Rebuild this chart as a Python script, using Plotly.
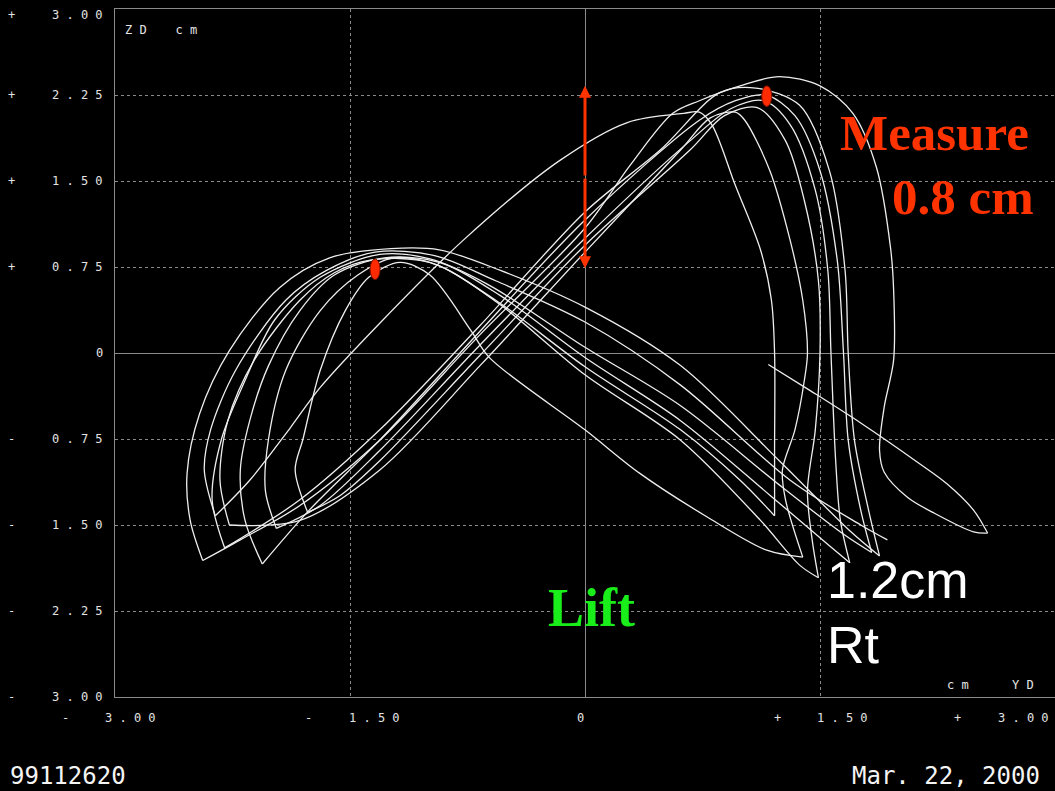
import plotly.graph_objects as go

# ---------------- data (cm) ----------------
# start of the trace: tail on the right
tail_x = [1.17, 1.44, 1.76, 2.12, 2.31, 2.48, 2.57]
tail_y = [-0.10, -0.33, -0.61, -0.95, -1.14, -1.37, -1.57]

# right-hand loops: bottom-right tip -> up -> right peak -> down-left diagonal
arc_a_x = [2.57, 2.48, 2.22, 2.06, 1.91, 1.88, 1.91, 1.97, 1.97, 1.95, 1.86, 1.71, 1.50, 1.24, 0.99, 0.73, 0.56, 0.29, 0.00, -0.67, -1.31, -1.82, -2.20, -2.44]
arc_a_y = [-1.57, -1.56, -1.39, -1.26, -1.04, -0.85, -0.47, -0.06, 0.55, 0.92, 1.62, 2.09, 2.33, 2.41, 2.33, 2.20, 2.09, 1.64, 1.09, 0.16, -0.76, -1.33, -1.63, -1.81]
arc_b_x = [1.88, 1.81, 1.72, 1.68, 1.66, 1.56, 1.37, 1.09, 0.86, 0.48, 0.00, -0.67, -1.31, -1.82, -2.30]
arc_b_y = [-1.77, -1.37, -0.76, 0.00, 0.72, 1.59, 2.16, 2.31, 2.27, 1.77, 1.23, 0.24, -0.67, -1.28, -1.70]
arc_c_x = [1.83, 1.76, 1.68, 1.65, 1.61, 1.50, 1.34, 1.155, 0.96, 0.73, 0.00, -0.67, -1.31, -1.76, -2.06]
arc_c_y = [-1.74, -1.37, -0.76, 0.00, 0.81, 1.59, 2.07, 2.25, 2.20, 2.03, 1.16, 0.19, -0.76, -1.37, -1.84]
arc_d_x = [1.69, 1.63, 1.60, 1.57, 1.55, 1.47, 1.31, 1.14, 0.93, 0.67, 0.00, -0.67, -1.31, -1.69, -1.97]
arc_d_y = [-1.83, -1.46, -0.94, 0.00, 0.72, 1.42, 1.99, 2.20, 2.13, 1.85, 1.00, 0.07, -0.85, -1.33, -1.53]
arc_e_x = [1.49, 1.45, 1.42, 1.47, 1.50, 1.49, 1.40, 1.28, 1.10, 0.89, 0.67, 0.00, -0.67, -1.31, -1.56, -1.77]
arc_e_y = [-1.96, -1.63, -1.20, -0.67, 0.00, 0.63, 1.33, 1.85, 2.14, 2.07, 1.77, 0.94, -0.02, -0.94, -1.24, -1.39]
arc_f_x = [1.39, 1.28, 1.26, 1.34, 1.40, 1.42, 1.39, 1.31, 1.18, 1.02, 0.96, 0.80, 0.61, 0.00, -0.67, -1.31, -1.82, -2.27]
arc_f_y = [-1.78, -1.28, -1.02, -0.67, -0.24, 0.00, 0.46, 0.98, 1.59, 2.03, 2.10, 2.05, 1.77, 0.88, -0.11, -1.02, -1.46, -1.50]
arc_g_x = [1.21, 1.21, 1.21, 1.19, 1.12, 0.96, 0.81, 0.73, 0.63, 0.27, -0.16, -0.78, -1.31, -1.69, -1.88, -2.14, -2.36]
arc_g_y = [-1.42, -0.85, 0.00, 0.46, 0.90, 1.46, 1.99, 2.10, 2.09, 2.01, 1.68, 0.98, 0.26, -0.30, -0.65, -1.11, -1.42]

# left-hand loops: bottom-left tip -> up -> left peak -> down-right diagonal
sweep_1_x = [-2.44, -2.52, -2.54, -2.46, -2.27, -1.95, -1.63, -1.24, -0.93, -0.54, 0.00, 0.61, 1.24, 1.69, 1.88]
sweep_1_y = [-1.81, -1.46, -1.05, -0.53, 0.02, 0.57, 0.83, 0.91, 0.90, 0.72, 0.40, -0.11, -0.94, -1.55, -1.77]
sweep_2_x = [-2.30, -2.38, -2.32, -2.17, -1.98, -1.69, -1.31, -0.99, -0.61, 0.00, 0.61, 1.24, 1.66, 1.83]
sweep_2_y = [-1.70, -1.28, -0.75, -0.24, 0.29, 0.66, 0.86, 0.82, 0.59, 0.05, -0.46, -1.15, -1.59, -1.74]
sweep_3_x = [-2.06, -2.17, -2.20, -2.14, -2.02, -1.82, -1.60, -1.28, -0.93, -0.54, 0.00, 0.61, 1.18, 1.56, 1.69]
sweep_3_y = [-1.84, -1.46, -1.02, -0.59, -0.11, 0.37, 0.68, 0.83, 0.79, 0.50, -0.04, -0.59, -1.24, -1.68, -1.83]
sweep_4_x = [-1.97, -2.04, -2.02, -1.91, -1.69, -1.45, -1.22, -0.93, -0.54, 0.00, 0.61, 1.12, 1.37, 1.49]
sweep_4_y = [-1.53, -1.20, -0.75, -0.15, 0.37, 0.68, 0.83, 0.76, 0.42, -0.19, -0.76, -1.46, -1.85, -1.96]
sweep_5_x = [-1.77, -1.85, -1.80, -1.69, -1.53, -1.38, -1.18, -0.99, -0.73, -0.61, 0.00, 0.35, 0.78, 1.16, 1.39]
sweep_5_y = [-1.39, -1.02, -0.75, -0.15, 0.37, 0.66, 0.79, 0.68, 0.20, -0.04, -0.67, -1.05, -1.43, -1.72, -1.78]
sweep_6_x = [-2.27, -2.33, -2.28, -2.11, -1.82, -1.60, -1.37, -0.99, -0.57, 0.00, 0.61, 0.99, 1.21]
sweep_6_y = [-1.50, -1.11, -0.59, -0.06, 0.46, 0.70, 0.81, 0.79, 0.46, -0.12, -0.67, -1.11, -1.42]
sweep_7_x = [-2.36, -2.43, -2.39, -2.23, -1.91, -1.65, -1.34, -0.96, -0.57, 0.00, 0.61, 1.31, 1.76, 1.93]
sweep_7_y = [-1.42, -1.02, -0.67, -0.15, 0.46, 0.72, 0.88, 0.85, 0.63, 0.27, -0.28, -1.11, -1.50, -1.63]

# marked peaks (cm)
peak_x = [-1.34, 1.16]
peak_y = [0.73, 2.24]
# lift measurement (cm)
lift_x = 0.0
lift_top = 2.33
lift_bottom = 0.74

# tick labels
y_tick_vals = [3, 2.25, 1.5, 0.75, 0, -0.75, -1.5, -2.25, -3]
y_tick_text = ["3 . 0 0", "2 . 2 5", "1 . 5 0", "0 . 7 5", "0", "0 . 7 5", "1 . 5 0", "2 . 2 5", "3 . 0 0"]
y_tick_sign = ["+", "+", "+", "+", "", "-", "-", "-", "-"]
x_tick_vals = [-3, -1.5, 0, 1.5, 3]
x_tick_text = ["3 . 0 0", "1 . 5 0", "0", "1 . 5 0", "3 . 0 0"]
x_tick_sign = ["-", "-", "", "+", "+"]

strokes = [
    (tail_x, tail_y), (arc_a_x, arc_a_y),
    (sweep_1_x, sweep_1_y), (arc_b_x, arc_b_y),
    (sweep_2_x, sweep_2_y), (arc_c_x, arc_c_y),
    (sweep_3_x, sweep_3_y), (arc_d_x, arc_d_y),
    (sweep_4_x, sweep_4_y), (arc_e_x, arc_e_y),
    (sweep_5_x, sweep_5_y), (arc_f_x, arc_f_y),
    (sweep_6_x, sweep_6_y), (arc_g_x, arc_g_y),
    (sweep_7_x, sweep_7_y),
]

fig = go.Figure()
for sx, sy in strokes:
    fig.add_trace(go.Scatter(
        x=sx, y=sy, mode="lines",
        line=dict(color="#eeeeee", width=1.3, shape="spline", smoothing=0.9),
        hoverinfo="skip", showlegend=False))

MONO = "DejaVu Sans Mono"
LBL = "#e4e4e4"
LSZ = 12
ann = []

# y tick labels
for v, t, s in zip(y_tick_vals, y_tick_text, y_tick_sign):
    ys = -6 if v == 3 else 0
    ann.append(dict(x=-0.0106, xref="paper", y=v, yref="y", text=t, showarrow=False,
                    xanchor="right", yanchor="middle", yshift=ys,
                    font=dict(family=MONO, size=LSZ, color=LBL)))
    if s:
        ann.append(dict(x=-0.1106, xref="paper", y=v, yref="y", text=s, showarrow=False,
                        xanchor="center", yanchor="middle", yshift=ys,
                        font=dict(family=MONO, size=LSZ, color=LBL)))

# x tick labels
num_shift = [15, 24, -5, 22, -32]
sign_shift = [-50, -42, 0, -43, -98]
for v, t, s, ns, ss in zip(x_tick_vals, x_tick_text, x_tick_sign, num_shift, sign_shift):
    ann.append(dict(x=v, xref="x", y=-0.0305, yref="paper", text=t, showarrow=False,
                    xanchor="center", yanchor="middle", xshift=ns,
                    font=dict(family=MONO, size=LSZ, color=LBL)))
    if s:
        ann.append(dict(x=v, xref="x", y=-0.0305, yref="paper", text=s, showarrow=False,
                        xanchor="center", yanchor="middle", xshift=ss,
                        font=dict(family=MONO, size=LSZ, color=LBL)))

NB = "\u00a0"
ann.append(dict(x=0.0085, xref="paper", y=0.9695, yref="paper",
                text="Z" + NB + "D" + NB * 4 + "c" + NB + "m", showarrow=False,
                xanchor="left", yanchor="middle", font=dict(family=MONO, size=LSZ, color=LBL)))
ann.append(dict(x=0.883, xref="paper", y=0.0174, yref="paper",
                text="c" + NB + "m" + NB * 6 + "Y" + NB + "D", showarrow=False,
                xanchor="left", yanchor="middle", font=dict(family=MONO, size=LSZ, color=LBL)))
ann.append(dict(x=-0.1138, xref="paper", y=-0.1148, yref="paper", text="99112620",
                showarrow=False, xanchor="left", yanchor="middle",
                font=dict(family=MONO, size=24, color="#f4f4f4")))
ann.append(dict(x=0.9862, xref="paper", y=-0.1148, yref="paper", text="Mar. 22, 2000",
                showarrow=False, xanchor="right", yanchor="middle",
                font=dict(family=MONO, size=24, color="#f4f4f4")))

# chart annotations
RED = "#ff3300"
SERIF = "Liberation Serif"
ann.append(dict(x=2.23, y=1.92, text="<b>Measure</b>", showarrow=False,
                xanchor="center", yanchor="middle", font=dict(family=SERIF, size=51, color=RED)))
ann.append(dict(x=2.41, y=1.36, text="<b>0.8 cm</b>", showarrow=False,
                xanchor="center", yanchor="middle", font=dict(family=SERIF, size=51, color=RED)))
ann.append(dict(x=0.04, y=-2.22, text="<b>Lift</b>", showarrow=False,
                xanchor="center", yanchor="middle", font=dict(family=SERIF, size=54, color="#1aee1a")))
ann.append(dict(x=1.53, y=-1.98, text="1.2cm", showarrow=False,
                xanchor="left", yanchor="middle", font=dict(family="Liberation Sans", size=52, color="#ffffff")))
ann.append(dict(x=1.53, y=-2.55, text="Rt", showarrow=False,
                xanchor="left", yanchor="middle", font=dict(family="Liberation Sans", size=52, color="#ffffff")))

mid = (lift_top + lift_bottom) / 2
for tip in (lift_top, lift_bottom):
    ann.append(dict(x=lift_x, y=tip, ax=lift_x, ay=mid, xref="x", yref="y", axref="x", ayref="y",
                    text="", showarrow=True, arrowhead=2, arrowsize=0.8, arrowwidth=3,
                    arrowcolor=RED, standoff=0, startstandoff=0))

shapes = []
for px_, py_ in zip(peak_x, peak_y):
    shapes.append(dict(type="circle", xref="x", yref="y",
                       x0=px_ - 0.032, x1=px_ + 0.032, y0=py_ - 0.09, y1=py_ + 0.09,
                       fillcolor="#ff2a00", line=dict(color="#7a1000", width=1), layer="above"))

fig.update_layout(
    width=1055, height=791, autosize=False,
    paper_bgcolor="black", plot_bgcolor="black",
    margin=dict(l=115, r=0, t=9, b=94, pad=0),
    showlegend=False,
    annotations=ann, shapes=shapes,
    xaxis=dict(range=[-3, 3], tick0=0, dtick=1.5, showgrid=True, gridcolor="#8a8a8a",
               griddash="dot", gridwidth=1, zeroline=True, zerolinecolor="#8a8a8a",
               zerolinewidth=1, showline=True, mirror=True, linecolor="#8a8a8a", linewidth=1,
               showticklabels=False, ticks="", fixedrange=True),
    yaxis=dict(range=[-3, 3], tick0=0, dtick=0.75, showgrid=True, gridcolor="#8a8a8a",
               griddash="dot", gridwidth=1, zeroline=True, zerolinecolor="#8a8a8a",
               zerolinewidth=1, showline=True, mirror=True, linecolor="#8a8a8a", linewidth=1,
               showticklabels=False, ticks="", fixedrange=True),
)

fig.write_html(
    "out.html",
    config={"displayModeBar": False, "staticPlot": True},
    post_script="document.body.style.margin='0';document.body.style.padding='0';"
                "document.body.style.background='black';document.body.style.overflow='hidden';",
)
